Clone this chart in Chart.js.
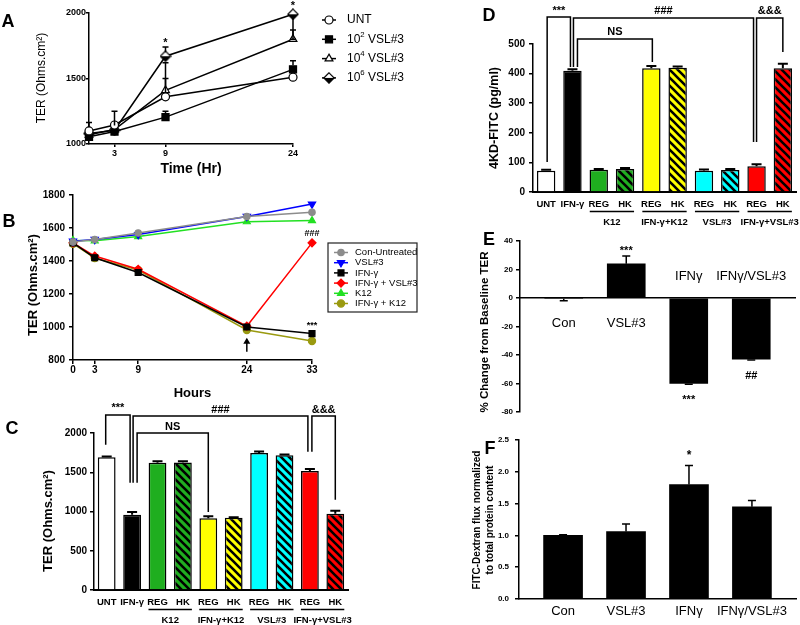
<!DOCTYPE html>
<html lang="en">
<head>
<meta charset="utf-8">
<title>TER and FITC permeability panels</title>
<script src="https://cdn.jsdelivr.net/npm/chart.js@4.4.1/dist/chart.umd.min.js"></script>
<style>
  html, body { margin: 0; padding: 0; background: #fff; }
  #fig { position: relative; width: 800px; height: 625px; overflow: hidden; }
  #fig canvas { position: absolute; left: 0; top: 0; }
</style>
</head>
<body>
<div id="fig">
  <canvas id="panelA" width="800" height="625"></canvas>
  <canvas id="panelB" width="800" height="625"></canvas>
  <canvas id="panelC" width="800" height="625"></canvas>
  <canvas id="panelD" width="800" height="625"></canvas>
  <canvas id="panelE" width="800" height="625"></canvas>
  <canvas id="panelF" width="800" height="625"></canvas>
</div>
<script>
/* -----------------------------------------------------------------------
   A : TER vs time, VSL#3 doses
   ----------------------------------------------------------------------- */
const a_hours = [0, 3, 9, 24];
const a_hour_ticks = [3, 9, 24];
const a_ter_ticks = [1000, 1500, 2000];
const a_unt  = [1100, 1145, 1360, 1510];
const a_vsl2 = [1055, 1095, 1205, 1570];
const a_vsl4 = [1070, 1110, 1410, 1800];
const a_vsl6 = [1080, 1105, 1670, 1990];
const a_unt_sem  = [65, 0, 140, 0];
const a_vsl2_sem = [0, 0, 45, 65];
const a_vsl4_sem = [0, 140, 210, 70];
const a_vsl6_sem = [0, 0, 70, -190];
const a_sig_hours = [9, 24];
const a_sig_ter = [1770, 2050];
const a_sig_marks = ['*', '*'];

/* -----------------------------------------------------------------------
   B : TER vs time, treatments
   ----------------------------------------------------------------------- */
const b_hours = [0, 3, 9, 24, 33];
const b_ter_ticks = [800, 1000, 1200, 1400, 1600, 1800];
const b_con     = [1515, 1530, 1570, 1670, 1695];
const b_vsl     = [1520, 1530, 1560, 1670, 1745];
const b_ifn     = [1510, 1420, 1330, 1000, 960];
const b_ifn_vsl = [1510, 1430, 1350, 1005, 1510];
const b_k12     = [1525, 1522, 1548, 1638, 1645];
const b_ifn_k12 = [1505, 1418, 1345, 982, 915];
const b_sig_marks = ['###', '***'];
const b_sig_ter = [1568, 1012];
const b_arrow_hour = 24;

/* -----------------------------------------------------------------------
   C : TER bars
   ----------------------------------------------------------------------- */
const c_labels = ['UNT', 'IFN-γ', 'REG', 'HK', 'REG', 'HK', 'REG', 'HK', 'REG', 'HK'];
const c_groups = ['K12', 'IFN-γ+K12', 'VSL#3', 'IFN-γ+VSL#3'];
const c_group_start = [2, 4, 6, 8];
const c_ter_ticks = [0, 500, 1000, 1500, 2000];
const c_ter = [1690, 960, 1620, 1625, 915, 920, 1745, 1715, 1515, 970];
const c_sem = [10, 35, 20, 15, 25, 8, 20, 12, 25, 40];
const c_sig = [
   { mark: '***', from: 0, to: 1, y1: 1850, top: 2230, y2: 1365 },
   { mark: '###', from: 1, to: 8, y1: 1365, top: 2215, y2: 1760 },
   { mark: 'NS',  from: 1, to: 4, y1: 1365, top: 2000, y2: 995 },
   { mark: '&&&', from: 8, to: 9, y1: 1760, top: 2215, y2: 1150 }
];

/* -----------------------------------------------------------------------
   D : 4KD-FITC bars
   ----------------------------------------------------------------------- */
const d_labels = ['UNT', 'IFN-γ', 'REG', 'HK', 'REG', 'HK', 'REG', 'HK', 'REG', 'HK'];
const d_groups = ['K12', 'IFN-γ+K12', 'VSL#3', 'IFN-γ+VSL#3'];
const d_group_start = [2, 4, 6, 8];
const d_fitc_ticks = [0, 100, 200, 300, 400, 500];
const d_fitc = [72, 410, 75, 78, 418, 420, 72, 74, 87, 418];
const d_sem = [3, 5, 3, 3, 8, 4, 4, 4, 7, 15];
const d_sig = [
   { mark: '***', from: 0, to: 1, y1: 101, top: 591, y2: 422 },
   { mark: '###', from: 1, to: 8, y1: 422, top: 588, y2: 169 },
   { mark: 'NS',  from: 1, to: 4, y1: 422, top: 517, y2: 439 },
   { mark: '&&&', from: 8, to: 9, y1: 169, top: 588, y2: 473 }
];

/* -----------------------------------------------------------------------
   E : % change from baseline TER
   ----------------------------------------------------------------------- */
const e_groups = ['Con', 'VSL#3', 'IFNγ', 'IFNγ/VSL#3'];
const e_change_ticks = [-80, -60, -40, -20, 0, 20, 40];
const e_change = [-0.5, 24, -60, -43];
const e_sem = [1.5, 5.5, 0.5, 0.5];
const e_sig_marks = ['***', '***', '##'];
const e_sig_group = [1, 2, 3];
const e_sig_level = [33, -71.5, -55];

/* -----------------------------------------------------------------------
   F : FITC-dextran flux
   ----------------------------------------------------------------------- */
const f_groups = ['Con', 'VSL#3', 'IFNγ', 'IFNγ/VSL#3'];
const f_flux_ticks = [0, 0.5, 1.0, 1.5, 2.0, 2.5];
const f_flux = [1.0, 1.06, 1.80, 1.45];
const f_sem = [0.01, 0.12, 0.30, 0.10];
const f_sig_marks = ['*'];
const f_sig_group = [2];
const f_sig_level = [2.25];

/* -----------------------------------------------------------------------
   helpers
   ----------------------------------------------------------------------- */
const FONT = 'Arial, "Liberation Sans", Helvetica, sans-serif';
const INK = '#000';
Chart.defaults.font.family = FONT;
Chart.defaults.color = INK;

function pts(xs, ys) {
   return xs.map(function(x, i) { return { x: x, y: ys[i] }; });
}
function fixedTicks(values) {
   return function(s) { s.ticks = values.map(function(v) { return { value: v }; }); };
}
// chart area in page pixels: left, top, right, bottom; yw / xh = axis band sizes
function frame(L, T, R, B, yw, xh) {
   return {
      layout: { autoPadding: false, padding: { left: L - yw, top: T, right: 800 - R, bottom: 625 - B - xh } },
      yFit: function(s) { s.width = yw; },
      xFit: function(s) { s.height = xh; }
   };
}
function baseOptions(f) {
   return {
      responsive: false, animation: false, events: [],
      layout: f.layout,
      plugins: { legend: { display: false }, tooltip: { enabled: false } }
   };
}
function valueAxis(f, ticks, size, tl, pad, extra) {
   return Object.assign({
      type: 'linear',
      min: ticks[0], max: ticks[ticks.length - 1],
      afterBuildTicks: fixedTicks(ticks),
      afterFit: f.yFit,
      ticks: { font: { size: size, weight: 'bold' }, padding: pad, callback: function(v) { return String(v); } },
      grid: { display: true, drawOnChartArea: false, tickLength: tl, color: INK, lineWidth: 1.5 },
      border: { display: true, color: INK, width: 1.5 }
   }, extra || {});
}
function series(label, xs, ys, color, style, r, fill, rot) {
   return {
      label: label, data: pts(xs, ys),
      borderColor: color, borderWidth: 1.5, backgroundColor: fill,
      pointStyle: style, pointRadius: r, pointRotation: rot || 0,
      pointBackgroundColor: fill, pointBorderColor: color, pointBorderWidth: 1.2,
      tension: 0, clip: false
   };
}
function hatch(color) {
   const s = 8;
   const c = document.createElement('canvas');
   c.width = s; c.height = s;
   const g = c.getContext('2d');
   g.fillStyle = color; g.fillRect(0, 0, s, s);
   g.strokeStyle = INK; g.lineWidth = 2.6;
   g.beginPath();
   g.moveTo(-2, -2); g.lineTo(s + 2, s + 2);
   g.moveTo(-2, s - 2); g.lineTo(2, s + 2);
   g.moveTo(s - 2, -2); g.lineTo(s + 2, 2);
   g.stroke();
   return g.createPattern(c, 'repeat');
}
function halfDiamond() {
   const c = document.createElement('canvas');
   c.width = 12; c.height = 12;
   const g = c.getContext('2d');
   g.beginPath();
   g.moveTo(6, 0.8); g.lineTo(11.2, 6); g.lineTo(6, 11.2); g.lineTo(0.8, 6); g.closePath();
   g.fillStyle = '#fff'; g.fill();
   g.save(); g.clip(); g.fillStyle = INK; g.fillRect(0, 6, 12, 6); g.restore();
   g.strokeStyle = INK; g.lineWidth = 1.2; g.stroke();
   return c;
}
// text with superscript digits
const SUP = { '²': '2', '⁴': '4', '⁶': '6' };
function drawRich(ctx, str, x, y, size) {
   let cx = x, run = '';
   const flush = function() {
      if (!run) return;
      ctx.font = size + 'px ' + FONT;
      ctx.fillText(run, cx, y);
      cx += ctx.measureText(run).width;
      run = '';
   };
   for (const ch of str) {
      if (SUP[ch]) {
         flush();
         ctx.font = (size * 0.65) + 'px ' + FONT;
         ctx.fillText(SUP[ch], cx, y - size * 0.38);
         cx += ctx.measureText(SUP[ch]).width;
      } else {
         run += ch;
      }
   }
   flush();
}
function drawMarker(ctx, ds, x, y) {
   ctx.fillStyle = ds.pointBackgroundColor;
   ctx.strokeStyle = ds.pointBorderColor;
   ctx.lineWidth = ds.pointBorderWidth;
   if (Chart.helpers && Chart.helpers.drawPoint) {
      Chart.helpers.drawPoint(ctx, { pointStyle: ds.pointStyle, radius: ds.pointRadius, rotation: ds.pointRotation || 0, borderWidth: ds.pointBorderWidth }, x, y);
   } else {
      ctx.beginPath(); ctx.arc(x, y, ds.pointRadius, 0, Math.PI * 2); ctx.fill(); ctx.stroke();
   }
}

/* -----------------------------------------------------------------------
   extras : error bars, brackets, marks, group rules, legends, free text
   ----------------------------------------------------------------------- */
function extras(cfg) {
   return {
      id: 'extras',
      afterDatasetsDraw: function(chart) {
         const ctx = chart.ctx, xs = chart.scales.x, ys = chart.scales.y, area = chart.chartArea;
         ctx.save();
         ctx.strokeStyle = INK; ctx.fillStyle = INK;
         ctx.textAlign = 'center'; ctx.textBaseline = 'middle';

         (cfg.errors || []).forEach(function(e) {
            const meta = chart.getDatasetMeta(e.dataset);
            const raw = chart.data.datasets[e.dataset].data;
            meta.data.forEach(function(el, i) {
               const d = e.err[i];
               if (!d) return;
               const v = (typeof raw[i] === 'object') ? raw[i].y : raw[i];
               const dir = v < 0 ? -1 : (d < 0 ? -1 : 1);
               const y0 = el.y - dir * (e.gap || 0);
               const y1 = ys.getPixelForValue(v + dir * Math.abs(d));
               ctx.lineWidth = e.width || 1.5;
               ctx.beginPath();
               ctx.moveTo(el.x, y0); ctx.lineTo(el.x, y1);
               ctx.moveTo(el.x - e.cap, y1); ctx.lineTo(el.x + e.cap, y1);
               ctx.stroke();
            });
         });

         (cfg.brackets || []).forEach(function(b, i) {
            const nudge = (cfg.nudge && cfg.nudge[i]) || [0, 0];
            const x1 = xs.getPixelForValue(b.from) + nudge[0];
            const x2 = xs.getPixelForValue(b.to) + nudge[1];
            const yA = ys.getPixelForValue(b.y1), yT = ys.getPixelForValue(b.top), yB = ys.getPixelForValue(b.y2);
            ctx.lineWidth = 1.5;
            ctx.beginPath();
            ctx.moveTo(x1, yA); ctx.lineTo(x1, yT); ctx.lineTo(x2, yT); ctx.lineTo(x2, yB);
            ctx.stroke();
            ctx.font = cfg.bracketFont;
            ctx.textBaseline = 'bottom';
            ctx.fillText(b.mark, (x1 + x2) / 2, yT - 1);
            ctx.textBaseline = 'middle';
         });

         (cfg.marks || []).forEach(function(m) {
            ctx.font = m.font;
            ctx.fillText(m.text, xs.getPixelForValue(m.x), ys.getPixelForValue(m.y));
         });

         if (cfg.groups) {
            const g = cfg.groups;
            ctx.lineWidth = 1.5;
            g.labels.forEach(function(lab, i) {
               const xa = xs.getPixelForValue(g.starts[i]) - g.half;
               const xb = xs.getPixelForValue(g.starts[i] + 1) + g.half;
               ctx.beginPath();
               ctx.moveTo(xa, area.bottom + g.lineY); ctx.lineTo(xb, area.bottom + g.lineY);
               ctx.stroke();
               ctx.font = g.font;
               ctx.fillText(lab, (xa + xb) / 2, area.bottom + g.textY);
            });
         }

         if (cfg.arrow) {
            const a = cfg.arrow;
            const px = xs.getPixelForValue(a.x), yf = ys.getPixelForValue(a.from), yt = ys.getPixelForValue(a.to);
            ctx.lineWidth = 1.5;
            ctx.beginPath(); ctx.moveTo(px, yf); ctx.lineTo(px, yt + 4); ctx.stroke();
            ctx.beginPath(); ctx.moveTo(px, yt); ctx.lineTo(px - 3.5, yt + 6); ctx.lineTo(px + 3.5, yt + 6); ctx.closePath(); ctx.fill();
         }

         if (cfg.legend) {
            const L = cfg.legend;
            if (L.box) {
               ctx.lineWidth = 1.2; ctx.strokeStyle = '#222';
               ctx.strokeRect(L.box.x, L.box.y, L.box.w, L.box.h);
            }
            chart.data.datasets.forEach(function(ds, i) {
               const yy = L.y + i * L.dy;
               ctx.strokeStyle = ds.borderColor; ctx.lineWidth = 1.5;
               ctx.beginPath(); ctx.moveTo(L.x, yy); ctx.lineTo(L.x + L.line, yy); ctx.stroke();
               drawMarker(ctx, ds, L.x + L.line / 2, yy);
               ctx.fillStyle = INK; ctx.textAlign = 'left';
               drawRich(ctx, ds.label, L.x + L.line + L.gap, yy, L.size);
               ctx.textAlign = 'center';
            });
         }

         (cfg.texts || []).forEach(function(t) {
            ctx.save();
            ctx.fillStyle = INK;
            ctx.translate(t.x, t.y);
            if (t.rot) ctx.rotate(t.rot * Math.PI / 180);
            ctx.font = t.font;
            ctx.fillText(t.text, 0, 0);
            ctx.restore();
         });
         ctx.restore();
      }
   };
}

/* -----------------------------------------------------------------------
   panel A
   ----------------------------------------------------------------------- */
const fA = frame(89, 13, 293, 144, 45, 34);
const optA = baseOptions(fA);
optA.scales = {
   x: {
      type: 'linear', min: 0, max: 24,
      afterBuildTicks: fixedTicks(a_hour_ticks), afterFit: fA.xFit,
      ticks: { font: { size: 9, weight: 'bold' }, padding: 1, callback: function(v) { return String(v); } },
      grid: { display: true, drawOnChartArea: false, tickLength: 3, color: INK, lineWidth: 1.5 },
      border: { display: true, color: INK, width: 1.5 },
      title: { display: true, text: 'Time (Hr)', font: { size: 14, weight: 'bold', lineHeight: 1.2 }, padding: 0 }
   },
   y: valueAxis(fA, a_ter_ticks, 9, 3, 0)
};
new Chart(document.getElementById('panelA'), {
   type: 'line',
   data: {
      datasets: [
         series('UNT', a_hours, a_unt, INK, 'circle', 4, '#fff'),
         series('10² VSL#3', a_hours, a_vsl2, INK, 'rect', 5, INK),
         series('10⁴ VSL#3', a_hours, a_vsl4, INK, 'triangle', 4.5, '#fff'),
         series('10⁶ VSL#3', a_hours, a_vsl6, INK, halfDiamond(), 5, '#fff')
      ]
   },
   options: optA,
   plugins: [extras({
      errors: [
         { dataset: 0, err: a_unt_sem, cap: 3, gap: 4 },
         { dataset: 1, err: a_vsl2_sem, cap: 3, gap: 4 },
         { dataset: 2, err: a_vsl4_sem, cap: 3, gap: 4 },
         { dataset: 3, err: a_vsl6_sem, cap: 3, gap: 4 }
      ],
      marks: a_sig_hours.map(function(h, i) {
         return { x: h, y: a_sig_ter[i], text: a_sig_marks[i], font: 'bold 11px ' + FONT };
      }),
      legend: { x: 322, y: 20, dy: 19.3, line: 14, gap: 11, size: 12 },
      texts: [
         { text: 'A', x: 8, y: 22, font: 'bold 18px ' + FONT },
         { text: 'TER (Ohms.cm²)', x: 42, y: 78, rot: -90, font: '12px ' + FONT }
      ]
   })]
});

/* -----------------------------------------------------------------------
   panel B
   ----------------------------------------------------------------------- */
const fB = frame(73, 195, 312, 360, 50, 41);
const optB = baseOptions(fB);
optB.scales = {
   x: {
      type: 'linear', min: 0, max: 33,
      afterBuildTicks: fixedTicks(b_hours), afterFit: fB.xFit,
      ticks: { font: { size: 10, weight: 'bold' }, padding: 0, callback: function(v) { return String(v); } },
      grid: { display: true, drawOnChartArea: false, tickLength: 4, color: INK, lineWidth: 1.5 },
      border: { display: true, color: INK, width: 1.5 },
      title: { display: true, text: 'Hours', font: { size: 13, weight: 'bold', lineHeight: 1.2 }, padding: 0 }
   },
   y: valueAxis(fB, b_ter_ticks, 10, 4, 4)
};
new Chart(document.getElementById('panelB'), {
   type: 'line',
   data: {
      datasets: [
         series('Con-Untreated', b_hours, b_con, '#8c8c8c', 'circle', 3.2, '#8c8c8c'),
         series('VSL#3', b_hours, b_vsl, '#0000ff', 'triangle', 4.2, '#0000ff', 180),
         series('IFN-γ', b_hours, b_ifn, INK, 'rect', 4.2, INK),
         series('IFN-γ + VSL#3', b_hours, b_ifn_vsl, '#ff0000', 'rectRot', 4, '#ff0000'),
         series('K12', b_hours, b_k12, '#22e022', 'triangle', 4, '#22e022'),
         series('IFN-γ + K12', b_hours, b_ifn_k12, '#9a9a10', 'circle', 3.6, '#9a9a10')
      ]
   },
   options: optB,
   plugins: [extras({
      marks: b_sig_marks.map(function(m, i) {
         return { x: 33, y: b_sig_ter[i], text: m, font: 'bold 9px ' + FONT };
      }),
      arrow: { x: b_arrow_hour, from: 850, to: 935 },
      legend: { x: 334, y: 252.5, dy: 10.2, line: 14, gap: 7, size: 9.5, box: { x: 328, y: 243, w: 89, h: 69 } },
      texts: [
         { text: 'B', x: 9, y: 222, font: 'bold 18px ' + FONT },
         { text: 'TER (Ohms.cm²)', x: 33, y: 285, rot: -90, font: 'bold 13px ' + FONT }
      ]
   })]
});

/* -----------------------------------------------------------------------
   panels C and D : grouped bars with hatched heat-killed bars
   ----------------------------------------------------------------------- */
const barFill = ['#ffffff', '#000000', '#1fae1f', hatch('#1fae1f'), '#ffff00', hatch('#ffff00'),
                 '#00ffff', hatch('#00ffff'), '#ff0000', hatch('#ff0000')];

function barPanel(id, f, labels, values, ticks, sem, sig, nudge, groups, starts, letter, ytitle) {
   const opt = baseOptions(f);
   opt.scales = {
      x: {
         type: 'category', afterFit: f.xFit,
         ticks: { font: { size: 9.5, weight: 'bold' }, padding: 7, maxRotation: 0, autoSkip: false },
         grid: { display: false, drawTicks: false, tickLength: 0 },
         border: { display: true, color: INK, width: 2 }
      },
      y: valueAxis(f, ticks, 10, 4, letter.text === 'C' ? 3 : 4)
   };
   new Chart(document.getElementById(id), {
      type: 'bar',
      data: {
         labels: labels,
         datasets: [{
            data: values, backgroundColor: barFill, borderColor: INK, borderWidth: 1.5,
            barPercentage: 0.7, categoryPercentage: 1.0
         }]
      },
      options: opt,
      plugins: [extras({
         errors: [{ dataset: 0, err: sem, cap: 5, width: 2 }],
         brackets: sig, nudge: nudge, bracketFont: 'bold 11px ' + FONT,
         groups: { labels: groups, starts: starts, half: 9, lineY: 19.5, textY: 30, font: 'bold 9.5px ' + FONT },
         texts: [letter, ytitle]
      })]
   });
}

barPanel('panelC', frame(94, 433, 348, 590, 50, 35), c_labels, c_ter, c_ter_ticks, c_sem, c_sig,
   [[-1, -2], [1, -2], [5, 0], [2, 0]], c_groups, c_group_start,
   { text: 'C', x: 12, y: 429, font: 'bold 18px ' + FONT },
   { text: 'TER (Ohms.cm²)', x: 48, y: 521, rot: -90, font: 'bold 13px ' + FONT });

barPanel('panelD', frame(533, 44, 796, 192, 50, 35), d_labels, d_fitc, d_fitc_ticks, d_sem, d_sig,
   [[1, -2], [1, -3], [5, 1], [0, 0]], d_groups, d_group_start,
   { text: 'D', x: 489, y: 16, font: 'bold 18px ' + FONT },
   { text: '4KD-FITC (pg/ml)', x: 495, y: 118, rot: -90, font: 'bold 12.5px ' + FONT });

/* -----------------------------------------------------------------------
   panel E
   ----------------------------------------------------------------------- */
const fE = frame(520, 241, 795, 412, 45, 0);
const optE = baseOptions(fE);
optE.scales = {
   x: {
      type: 'linear', min: 0.3, max: 4.7, offset: false, position: { y: 0 },
      ticks: { display: false },
      grid: { display: false, drawTicks: false },
      border: { display: true, color: INK, width: 1.5 }
   },
   y: valueAxis(fE, e_change_ticks, 8, 4, 3)
};
const eLabelLevel = [-18, -18, 15, 15];
new Chart(document.getElementById('panelE'), {
   type: 'bar',
   data: {
      datasets: [{
         data: pts(e_groups.map(function(g, i) { return i + 1; }), e_change),
         backgroundColor: INK, borderWidth: 0, barThickness: 38
      }]
   },
   options: optE,
   plugins: [extras({
      errors: [{ dataset: 0, err: e_sem, cap: 4 }],
      marks: e_groups.map(function(g, i) {
         return { x: i + 1, y: eLabelLevel[i], text: g, font: '13px ' + FONT };
      }).concat(e_sig_marks.map(function(m, i) {
         return { x: e_sig_group[i] + 1, y: e_sig_level[i], text: m, font: 'bold 11px ' + FONT };
      })),
      texts: [
         { text: 'E', x: 489, y: 240, font: 'bold 18px ' + FONT },
         { text: '% Change from Baseline TER', x: 485, y: 332, rot: -90, font: 'bold 11.5px ' + FONT }
      ]
   })]
});

/* -----------------------------------------------------------------------
   panel F
   ----------------------------------------------------------------------- */
const fF = frame(519, 440, 796, 599, 50, 26);
const optF = baseOptions(fF);
optF.scales = {
   x: {
      type: 'linear', min: 0.3, max: 4.7, offset: false,
      afterBuildTicks: fixedTicks(f_groups.map(function(g, i) { return i + 1; })), afterFit: fF.xFit,
      ticks: { font: { size: 13 }, padding: 5, maxRotation: 0, minRotation: 0, autoSkip: false,
               callback: function(v, i) { return f_groups[i]; } },
      grid: { display: false, drawTicks: false, tickLength: 0 },
      border: { display: true, color: INK, width: 1.5 }
   },
   y: valueAxis(fF, f_flux_ticks, 8, 4, 6)
};
optF.scales.y.ticks.callback = function(v) { return v.toFixed(1); };
new Chart(document.getElementById('panelF'), {
   type: 'bar',
   data: {
      datasets: [{
         data: pts(f_groups.map(function(g, i) { return i + 1; }), f_flux),
         backgroundColor: INK, borderWidth: 0, barThickness: 39
      }]
   },
   options: optF,
   plugins: [extras({
      errors: [{ dataset: 0, err: f_sem, cap: 4 }],
      marks: f_sig_marks.map(function(m, i) {
         return { x: f_sig_group[i] + 1, y: f_sig_level[i], text: m, font: 'bold 12px ' + FONT };
      }),
      texts: [
         { text: 'F', x: 490, y: 449, font: 'bold 18px ' + FONT },
         { text: 'FITC-Dextran flux normalized', x: 477, y: 520, rot: -90, font: 'bold 10px ' + FONT },
         { text: 'to total protein content', x: 490, y: 520, rot: -90, font: 'bold 10px ' + FONT }
      ]
   })]
});
</script>
</body>
</html>
